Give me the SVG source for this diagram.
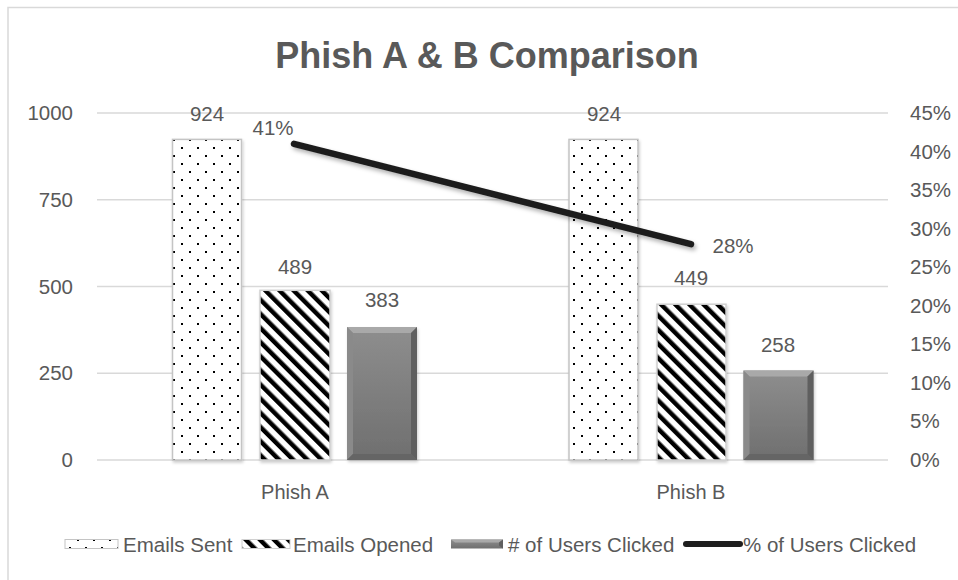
<svg xmlns="http://www.w3.org/2000/svg" width="958" height="580" viewBox="0 0 958 580">
  <style>
    text { font-family: "Liberation Sans", Arial, sans-serif; fill: #595959; }
    .title { font-size: 36px; font-weight: bold; text-anchor: middle; }
    .axis { font-size: 20.5px; }
    .axl { text-anchor: end; }
    .dl { font-size: 20.5px; text-anchor: middle; }
    .cat { font-size: 20px; text-anchor: middle; }
    .leg { font-size: 20.5px; }
    .grid { stroke: #d9d9d9; stroke-width: 1.5; fill: none; }
    .sent { fill: url(#dots); stroke: #c4c4c4; stroke-width: 1.5; }
    .opened { fill: url(#stripes); stroke: #d0d0d0; stroke-width: 1.5; }
    .clk { fill: url(#clkGrad); }
    .bv-top { fill: #a9a9a9; }
    .bv-left { fill: #8a8a8a; }
    .bv-right { fill: #5f5f5f; }
    .bv-bot { fill: #656565; }
    .pct { stroke: #1e1e1e; stroke-width: 6.5; stroke-linecap: round; fill: none; }
  </style>
  <defs>
    <pattern id="dots" patternUnits="userSpaceOnUse" x="172" y="138" width="16" height="16">
      <rect width="16" height="16" fill="#ffffff"/>
      <rect x="1" y="1" width="2" height="2" fill="#000000"/>
      <rect x="9" y="9" width="2" height="2" fill="#000000"/>
    </pattern>
    <pattern id="stripes" patternUnits="userSpaceOnUse" width="10" height="10" patternTransform="rotate(-45)">
      <rect width="10" height="10" fill="#ffffff"/>
      <rect width="4.5" height="10" fill="#000000"/>
    </pattern>
    <linearGradient id="clkGrad" x1="0" y1="0" x2="0" y2="1">
      <stop offset="0" stop-color="#8e8e8e"/>
      <stop offset="1" stop-color="#6f6f6f"/>
    </linearGradient>
    <filter id="lineShadow" x="-10%" y="-50%" width="120%" height="200%">
      <feDropShadow dx="2" dy="3" stdDeviation="2" flood-color="#000000" flood-opacity="0.3"/>
    </filter>
    <filter id="barShadow" x="-10%" y="-10%" width="130%" height="120%">
      <feDropShadow dx="1" dy="2" stdDeviation="1.5" flood-color="#000000" flood-opacity="0.2"/>
    </filter>
  </defs>

  <!-- chart frame -->
  <rect x="0" y="0" width="958" height="580" fill="#ffffff"/>
  <rect x="8" y="7.5" width="960" height="590" fill="#ffffff" stroke="#d9d9d9" stroke-width="1.5"/>

  <text class="title" x="487" y="68">Phish A &amp; B Comparison</text>

  <!-- gridlines -->
  <g id="gridlines">
    <line class="grid" x1="97" y1="113" x2="888" y2="113"/>
    <line class="grid" x1="97" y1="199.75" x2="888" y2="199.75"/>
    <line class="grid" x1="97" y1="286.5" x2="888" y2="286.5"/>
    <line class="grid" x1="97" y1="373.25" x2="888" y2="373.25"/>
    <line class="grid" x1="97" y1="460" x2="888" y2="460"/>
  </g>

  <!-- left axis -->
  <g id="axis-left" class="axis">
    <text class="axl" x="73" y="120">1000</text>
    <text class="axl" x="73" y="207">750</text>
    <text class="axl" x="73" y="294">500</text>
    <text class="axl" x="73" y="380">250</text>
    <text class="axl" x="73" y="467">0</text>
  </g>

  <!-- right axis -->
  <g id="axis-right" class="axis">
    <text x="910" y="120">45%</text>
    <text x="910" y="158.6">40%</text>
    <text x="910" y="197.1">35%</text>
    <text x="910" y="235.7">30%</text>
    <text x="910" y="274.2">25%</text>
    <text x="910" y="312.8">20%</text>
    <text x="910" y="351.3">15%</text>
    <text x="910" y="389.9">10%</text>
    <text x="910" y="428.4">5%</text>
    <text x="910" y="467">0%</text>
  </g>

  <!-- Phish A -->
  <g id="phish-a">
    <g id="a-sent" filter="url(#barShadow)">
      <rect class="sent" x="172.5" y="139.4" width="69" height="320.6"/>
    </g>
    <g id="a-opened" filter="url(#barShadow)">
      <rect class="opened" x="260" y="290.3" width="70" height="169.7"/>
    </g>
    <g id="a-clicked" filter="url(#barShadow)">
      <rect class="clk" x="347" y="327.1" width="70" height="132.9"/>
      <polygon class="bv-top" points="347,327.1 417,327.1 411,333.1 353,333.1"/>
      <polygon class="bv-left" points="347,327.1 353,333.1 353,454 347,460"/>
      <polygon class="bv-right" points="417,327.1 411,333.1 411,454 417,460"/>
      <polygon class="bv-bot" points="347,460 353,454 411,454 417,460"/>
    </g>
    <text class="cat" x="295" y="499">Phish A</text>
  </g>

  <!-- Phish B -->
  <g id="phish-b">
    <g id="b-sent" filter="url(#barShadow)">
      <rect class="sent" x="569" y="139.4" width="69" height="320.6"/>
    </g>
    <g id="b-opened" filter="url(#barShadow)">
      <rect class="opened" x="657" y="304.2" width="69" height="155.8"/>
    </g>
    <g id="b-clicked" filter="url(#barShadow)">
      <rect class="clk" x="743.5" y="370.5" width="70" height="89.5"/>
      <polygon class="bv-top" points="743.5,370.5 813.5,370.5 807.5,376.5 749.5,376.5"/>
      <polygon class="bv-left" points="743.5,370.5 749.5,376.5 749.5,454 743.5,460"/>
      <polygon class="bv-right" points="813.5,370.5 807.5,376.5 807.5,454 813.5,460"/>
      <polygon class="bv-bot" points="743.5,460 749.5,454 807.5,454 813.5,460"/>
    </g>
    <text class="cat" x="691" y="499">Phish B</text>
  </g>

  <!-- percentage line -->
  <g id="connectors">
    <polyline class="pct" filter="url(#lineShadow)" points="294,143.9 691,244.1"/>
  </g>

  <!-- data labels -->
  <g id="data-labels" class="dl">
    <text x="207" y="121">924</text>
    <text x="295" y="274">489</text>
    <text x="382" y="307">383</text>
    <text x="604" y="121">924</text>
    <text x="691" y="285">449</text>
    <text x="778" y="352">258</text>
    <text x="273" y="135">41%</text>
    <text x="733" y="253">28%</text>
  </g>

  <!-- legend -->
  <g id="legend">
    <rect x="65" y="539.5" width="53" height="9" fill="url(#dots)" stroke="#c4c4c4" stroke-width="1"/>
    <text class="leg" x="123" y="551.5">Emails Sent</text>
    <rect x="242" y="539.5" width="48" height="9" fill="url(#stripes)" stroke="#d0d0d0" stroke-width="1"/>
    <text class="leg" x="293" y="551.5">Emails Opened</text>
    <g id="legend-clicked">
      <rect x="451" y="539.5" width="52" height="9" fill="url(#clkGrad)"/>
      <polygon class="bv-top" points="451,539.5 503,539.5 499,542.5 455,542.5"/>
      <polygon class="bv-right" points="503,539.5 499,542.5 499,545.5 503,548.5"/>
    </g>
    <text class="leg" x="508" y="551.5"># of Users Clicked</text>
    <line x1="686" y1="544" x2="740" y2="544" stroke="#1e1e1e" stroke-width="6" stroke-linecap="round"/>
    <text class="leg" x="743" y="551.5">% of Users Clicked</text>
  </g>
</svg>
